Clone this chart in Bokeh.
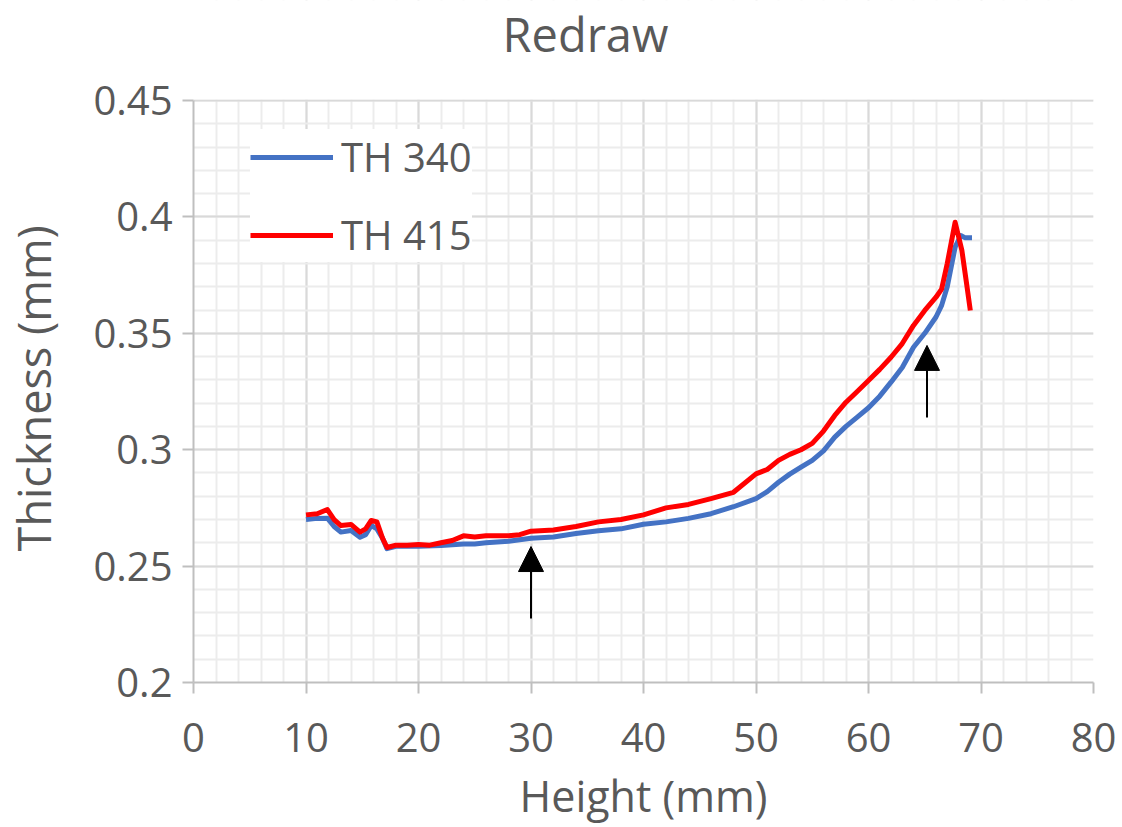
from bokeh.plotting import figure
from bokeh.models import (Range1d, SingleIntervalTicker, CustomJSTickFormatter, Legend, LegendItem,
                          Arrow, NormalHead, Label, BoxAnnotation)
from bokeh.embed import file_html
from bokeh.resources import INLINE

# ---- data ----
height_th340 = [10, 11, 11.9, 12.5, 13.1, 14, 14.8, 15.3, 15.8, 16.3, 16.8, 17.2, 18, 19, 20, 22, 24, 25, 26,
                28, 30, 32, 34, 36, 38, 40, 42, 44, 46, 48, 50, 51, 52, 53, 54, 55, 56, 57, 58, 59, 60,
                61, 62, 63, 64, 65, 66, 66.5, 67, 67.7, 68.2, 68.6, 69.2]
thickness_th340 = [0.270, 0.2705, 0.2706, 0.267, 0.2646, 0.2653, 0.2624, 0.2635, 0.2675, 0.266, 0.262, 0.2575,
                   0.2585, 0.2585, 0.2585, 0.2588, 0.2595, 0.2595, 0.2600, 0.2607, 0.2620, 0.2625, 0.2640,
                   0.2652, 0.2660, 0.2680, 0.2690, 0.2705, 0.2725, 0.2755, 0.2790, 0.2820, 0.2860, 0.2895,
                   0.2925, 0.2954, 0.2995, 0.3054, 0.3100, 0.3140, 0.3180, 0.3230, 0.3290, 0.3353, 0.3440,
                   0.3500, 0.3570, 0.3620, 0.3700, 0.3870, 0.3920, 0.3910, 0.3910]

height_th415 = [10, 11, 11.9, 12.5, 13.1, 14, 14.8, 15.3, 15.8, 16.3, 16.8, 17.2, 18, 19, 20, 21, 22, 23, 24,
                25, 26, 28, 29, 30, 32, 34, 36, 38, 40, 42, 44, 46, 48, 50, 51, 52, 53, 54, 55, 56, 57,
                58, 59, 60, 61, 62, 63, 64, 65, 66, 66.5, 67, 67.7, 68.3, 68.7, 69.05]
thickness_th415 = [0.2720, 0.2725, 0.2743, 0.2700, 0.2674, 0.2679, 0.2646, 0.2660, 0.2696, 0.2690, 0.2620,
                   0.2580, 0.2590, 0.2590, 0.2593, 0.2590, 0.2600, 0.2610, 0.2630, 0.2625, 0.2630, 0.2630,
                   0.2635, 0.2650, 0.2655, 0.2670, 0.2690, 0.2700, 0.2720, 0.2750, 0.2765, 0.2790, 0.2817,
                   0.2896, 0.2915, 0.2954, 0.2980, 0.3000, 0.3027, 0.3080, 0.3147, 0.3204, 0.3250, 0.3297,
                   0.3345, 0.3397, 0.3456, 0.3534, 0.3598, 0.3655, 0.3690, 0.3800, 0.3977, 0.3856, 0.3720,
                   0.3598]

arrow_x = [30, 65.2]
arrow_tail = [0.2275, 0.3138]
arrow_tip = [0.2584, 0.3448]

x_range = (0, 80)
y_range = (0.2, 0.45)

TEXT = "#595959"
FONT = "Open Sans"

FRAME_H = 582          # pixel height of the data area (0.2 .. 0.45)
TOP_PAD = 100          # pixels above the data area (used for the title)
units_per_px = (y_range[1] - y_range[0]) / FRAME_H
y_top = y_range[1] + TOP_PAD * units_per_px

p = figure(width=1122, height=827, output_backend="svg", toolbar_location=None,
           x_range=Range1d(*x_range), y_range=Range1d(y_range[0], y_top),
           min_border_left=193, min_border_right=29, min_border_top=0, min_border_bottom=145,
           background_fill_color="white", border_fill_color="white")
p.outline_line_color = None

# axes
p.xaxis.ticker = SingleIntervalTicker(interval=10, num_minor_ticks=5)
p.yaxis.ticker = SingleIntervalTicker(interval=0.05, num_minor_ticks=5)
p.yaxis.formatter = CustomJSTickFormatter(code="return String(parseFloat(tick.toFixed(2)));")
p.yaxis.bounds = y_range
for ax in (p.xaxis[0], p.yaxis[0]):
    ax.axis_line_color = "#bfbfbf"
    ax.axis_line_width = 2
    ax.major_tick_line_color = "#bfbfbf"
    ax.major_tick_line_width = 2
    ax.major_tick_out = 11
    ax.major_tick_in = 0
    ax.minor_tick_out = 0
    ax.minor_tick_in = 0
    ax.major_label_text_font = FONT
    ax.major_label_text_font_size = "40px"
    ax.major_label_text_color = TEXT
    ax.axis_label_text_font = FONT
    ax.axis_label_text_font_style = "normal"
    ax.axis_label_text_color = TEXT
p.xaxis.axis_label = "Height (mm)"
# trailing no-break spaces keep the label centred on the 0.2-0.45 data area
p.yaxis.axis_label = "Thickness (mm)" + "\u00a0" * 8
p.xaxis.axis_label_text_font_size = "43px"
p.yaxis.axis_label_text_font_size = "45px"
p.xaxis.major_label_standoff = 29
p.yaxis.major_label_standoff = 10
p.xaxis.axis_label_standoff = 11
p.yaxis.axis_label_standoff = 26

# grid
for g in (p.xgrid[0], p.ygrid[0]):
    g.grid_line_color = "#d9d9d9"
    g.grid_line_width = 2
    g.minor_grid_line_color = "#ececec"
    g.minor_grid_line_width = 2

# blank the title strip above 0.45
p.add_layout(BoxAnnotation(bottom=y_range[1] + 1 * units_per_px, fill_color="white", fill_alpha=1.0,
                           line_color=None, level="underlay"))

r1 = p.line(height_th340, thickness_th340, line_color="#4472C4", line_width=5, line_join="round")
r2 = p.line(height_th415, thickness_th415, line_color="#FF0000", line_width=5, line_join="round")

for xa, yt, yh in zip(arrow_x, arrow_tail, arrow_tip):
    p.add_layout(Arrow(x_start=xa, y_start=yt, x_end=xa, y_end=yh, line_color="black", line_width=2,
                       end=NormalHead(size=25, fill_color="black", line_color="black", line_width=1)))

# title
p.add_layout(Label(x=(502 - 193) / 900 * 80, y=y_top - 33 * units_per_px, text="Redraw",
                   text_font=FONT, text_font_size="47px", text_color=TEXT,
                   text_baseline="alphabetic", text_align="left"))

legend = Legend(items=[LegendItem(label="TH 340", renderers=[r1]),
                       LegendItem(label="TH 415", renderers=[r2])],
                location=(57, 420), orientation="vertical",
                label_text_font=FONT, label_text_font_size="40px", label_text_color=TEXT,
                glyph_width=83, glyph_height=40, label_height=40, label_standoff=8,
                spacing=23, padding=18, margin=0,
                border_line_color=None, background_fill_color="white", background_fill_alpha=1.0)
p.add_layout(legend, "center")

open("out.html", "w").write(file_html(p, INLINE))
